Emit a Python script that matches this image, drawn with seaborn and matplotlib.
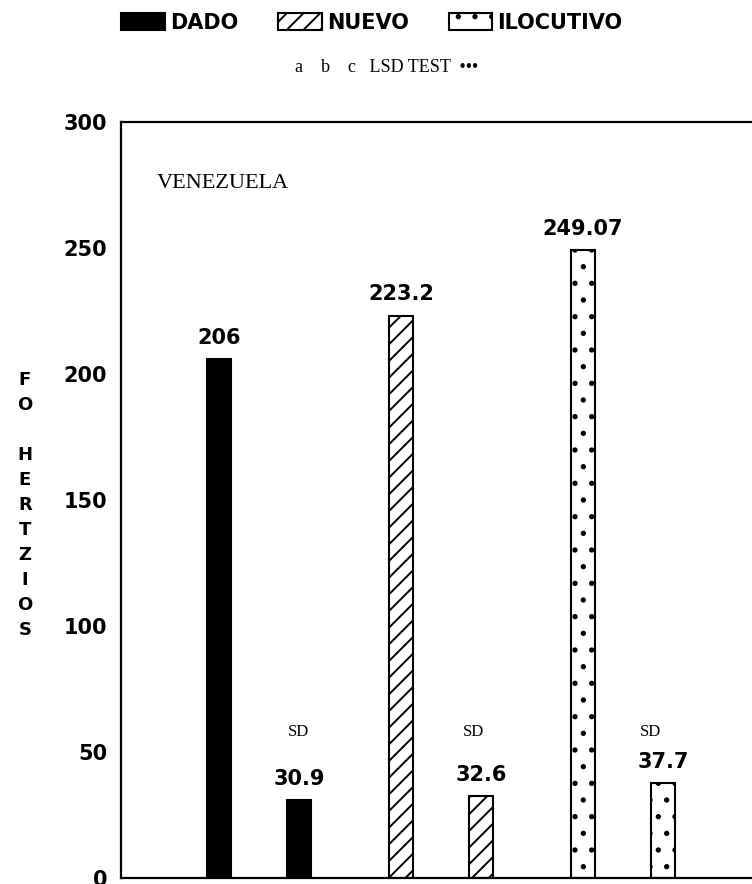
import pandas as pd
import matplotlib
matplotlib.use("Agg")
import matplotlib.pyplot as plt
from matplotlib.patches import Patch
import seaborn as sns

# --- data ---
grupos = ["DADO", "NUEVO", "ILOCUTIVO"]
medias = [206, 223.2, 249.07]
sds = [30.9, 32.6, 37.7]

df = pd.DataFrame({
    "grupo": grupos * 2,
    "medida": ["media"] * 3 + ["SD"] * 3,
    "valor": medias + sds,
})

sns.set_theme(style="white")
plt.rcParams["font.family"] = ["DejaVu Sans"]
plt.rcParams["hatch.linewidth"] = 1.4
plt.rcParams["text.color"] = "black"
plt.rcParams["ytick.color"] = "black"
plt.rcParams["ytick.labelcolor"] = "black"

estilos = {
    "DADO": dict(facecolor="black", hatch=None),
    "NUEVO": dict(facecolor="white", hatch="//"),
    "ILOCUTIVO": dict(facecolor="white", hatch="."),
}

fig = plt.figure(figsize=(7.52, 8.84), dpi=100)
ax = fig.add_axes([121 / 752, 6 / 884, 631 / 752, 756 / 884])

sns.barplot(data=df, x="grupo", y="valor", hue="medida", order=grupos,
            hue_order=["media", "SD"], dodge=True, width=0.88, gap=0.7,
            errorbar=None, legend=False, ax=ax)

for cont in ax.containers:
    for i, bar in enumerate(cont):
        st = estilos[grupos[i]]
        bar.set_facecolor(st["facecolor"])
        bar.set_edgecolor("black")
        bar.set_linewidth(1.5)
        if st["hatch"]:
            bar.set_hatch(st["hatch"])

# value labels
ax.bar_label(ax.containers[0], labels=[f"{v:g}" for v in medias], padding=8,
             fontsize=15, fontweight="bold", color="black")
ax.bar_label(ax.containers[1], labels=[f"{v:g}" for v in sds], padding=8,
             fontsize=15, fontweight="bold", color="black")

for bar, dx in zip(ax.containers[1], [-0.005, -0.04, -0.07]):
    xc = bar.get_x() + bar.get_width() / 2 + dx
    ax.text(xc, 58, "SD", ha="center", va="center", fontsize=12,
            family="Liberation Serif", color="black")

ax.text(0.057, 0.918, "VENEZUELA", transform=ax.transAxes, fontsize=16,
        family="Liberation Serif", ha="left", va="center", color="black")

ax.set_xlim(-0.76, 2.71)
ax.set_ylim(0, 300)
ax.set_yticks([0, 50, 100, 150, 200, 250, 300])
ax.set_xticks([])
ax.set_xlabel("")
ax.set_ylabel("")
ax.tick_params(axis="y", direction="in", length=9, width=1.5, pad=10,
               labelsize=15, colors="black")
for lab in ax.get_yticklabels():
    lab.set_fontweight("bold")
for s in ["left", "top", "bottom"]:
    ax.spines[s].set_color("black")
    ax.spines[s].set_linewidth(1.6)
ax.spines["right"].set_visible(False)

# vertical y label
fig.text(25 / 752, 1 - 505 / 884, "F\nO\n\nH\nE\nR\nT\nZ\nI\nO\nS",
         fontsize=13, fontweight="bold", ha="center", va="center",
         linespacing=1.5, color="black")

# legend on top
handles = [Patch(facecolor=estilos[g]["facecolor"], edgecolor="black",
                 hatch=estilos[g]["hatch"], linewidth=1.5) for g in grupos]
leg = fig.legend(handles, grupos, loc="center",
                 bbox_to_anchor=(372 / 752, 1 - 23 / 884),
                 ncol=3, frameon=False, handlelength=2.1, handleheight=0.9,
                 handletextpad=0.25, columnspacing=1.9,
                 prop={"weight": "bold", "size": 15})
for t in leg.get_texts():
    t.set_color("black")

fig.text(387 / 752, 1 - 68 / 884, "a    b    c   LSD TEST  \u2022\u2022\u2022",
         fontsize=13, family="Liberation Serif", ha="center", va="center",
         color="black")

fig.savefig("out.png", dpi=100)
